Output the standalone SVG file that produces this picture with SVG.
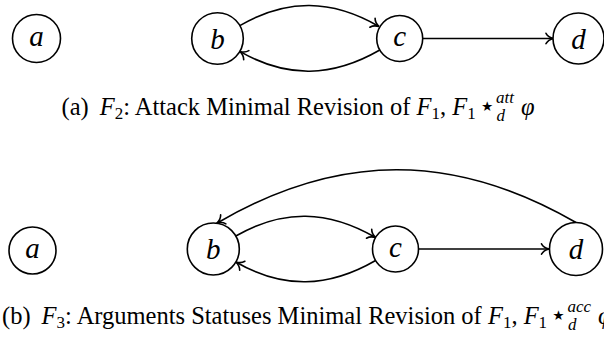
<svg xmlns="http://www.w3.org/2000/svg" width="604" height="338" viewBox="0 0 604 338">
<style>
.nd circle{fill:#fff;stroke:#000;stroke-width:1.6}
.lbl{font-family:"Liberation Serif",serif;font-style:italic;font-size:29px;text-anchor:middle;fill:#000}
.edge{fill:none;stroke:#000;stroke-width:1.6;marker-end:url(#arr)}
.cap{font-family:"Liberation Serif",serif;font-size:24.5px;fill:#000}
.mi{font-style:italic}
.sb{font-size:17px}
.st{font-family:"DejaVu Sans",sans-serif;font-size:27px}
</style>
<defs>
<marker id="arr" markerUnits="userSpaceOnUse" markerWidth="12" markerHeight="14" viewBox="-10 -7 12 14" refX="0" refY="0" orient="auto">
<path d="M-7.5,-5.2 C-6,-2.5 -2,-0.5 0,0 C-2,0.5 -6,2.5 -7.5,5.2" fill="none" stroke="#000" stroke-width="1.6" stroke-linecap="round"/>
</marker>
</defs>

<g id="connectors">
<path class="edge" d="M239.8,25.6 C287.1,-1.7 331.7,-0.8 379,26.5"/>
<path class="edge" d="M379.8,50 C332.5,77.3 287.1,78.7 239.8,51.4"/>
<path class="edge" d="M422.7,38.5 L553.5,38.5"/>
<path class="edge" d="M235.8,236 C283.2,208.6 328.2,210.1 375.6,237.5"/>
<path class="edge" d="M375.6,260.5 C328.2,287.9 283.2,289.4 235.8,262"/>
<path class="edge" d="M418.5,249 L549,249"/>
<path class="edge" d="M576,222.5 C454,152 338.5,152 216.8,223.2"/>
</g>

<g id="top-a" class="nd"><circle cx="36.5" cy="38.5" r="24"/><text class="lbl" x="36.5" y="46">a</text></g>
<g id="top-b" class="nd"><circle cx="217.5" cy="38.5" r="25.8"/><text class="lbl" x="217.5" y="48.5">b</text></g>
<g id="top-c" class="nd"><circle cx="399.7" cy="38.5" r="23"/><text class="lbl" x="399.7" y="46">c</text></g>
<g id="top-d" class="nd"><circle cx="578.5" cy="38.5" r="25.5"/><text class="lbl" x="578.5" y="48.5">d</text></g>

<text id="caption-a" class="cap" x="61.5" y="115">(a)<tspan dx="11" class="mi">F</tspan><tspan class="sb" dy="4">2</tspan><tspan dy="-4">: Attack Minimal Revision of </tspan><tspan class="mi">F</tspan><tspan class="sb" dy="4">1</tspan><tspan dy="-4">, </tspan><tspan class="mi">F</tspan><tspan class="sb" dy="4">1</tspan><tspan class="st" dy="-4" dx="3">⋆</tspan><tspan class="mi sb" dy="6" dx="1">d</tspan><tspan class="mi sb" dx="-9" dy="-18">att</tspan><tspan class="mi" dy="12" dx="7">φ</tspan></text>

<g id="bot-a" class="nd"><circle cx="32.5" cy="250.5" r="23.5"/><text class="lbl" x="32.5" y="258">a</text></g>
<g id="bot-b" class="nd"><circle cx="213.3" cy="249" r="26"/><text class="lbl" x="213.3" y="259">b</text></g>
<g id="bot-c" class="nd"><circle cx="395.5" cy="249" r="23"/><text class="lbl" x="395.5" y="256.5">c</text></g>
<g id="bot-d" class="nd"><circle cx="576" cy="249" r="26.5"/><text class="lbl" x="576" y="259">d</text></g>

<text id="caption-b" class="cap" x="2" y="323.5">(b)<tspan dx="11" class="mi">F</tspan><tspan class="sb" dy="4">3</tspan><tspan dy="-4">: Arguments Statuses Minimal Revision of </tspan><tspan class="mi">F</tspan><tspan class="sb" dy="4">1</tspan><tspan dy="-4">, </tspan><tspan class="mi">F</tspan><tspan class="sb" dy="4">1</tspan><tspan class="st" dy="-4" dx="3">⋆</tspan><tspan class="mi sb" dy="6" dx="1">d</tspan><tspan class="mi sb" dx="-9" dy="-18">acc</tspan><tspan class="mi" dy="12" dx="7">φ</tspan></text>
</svg>
